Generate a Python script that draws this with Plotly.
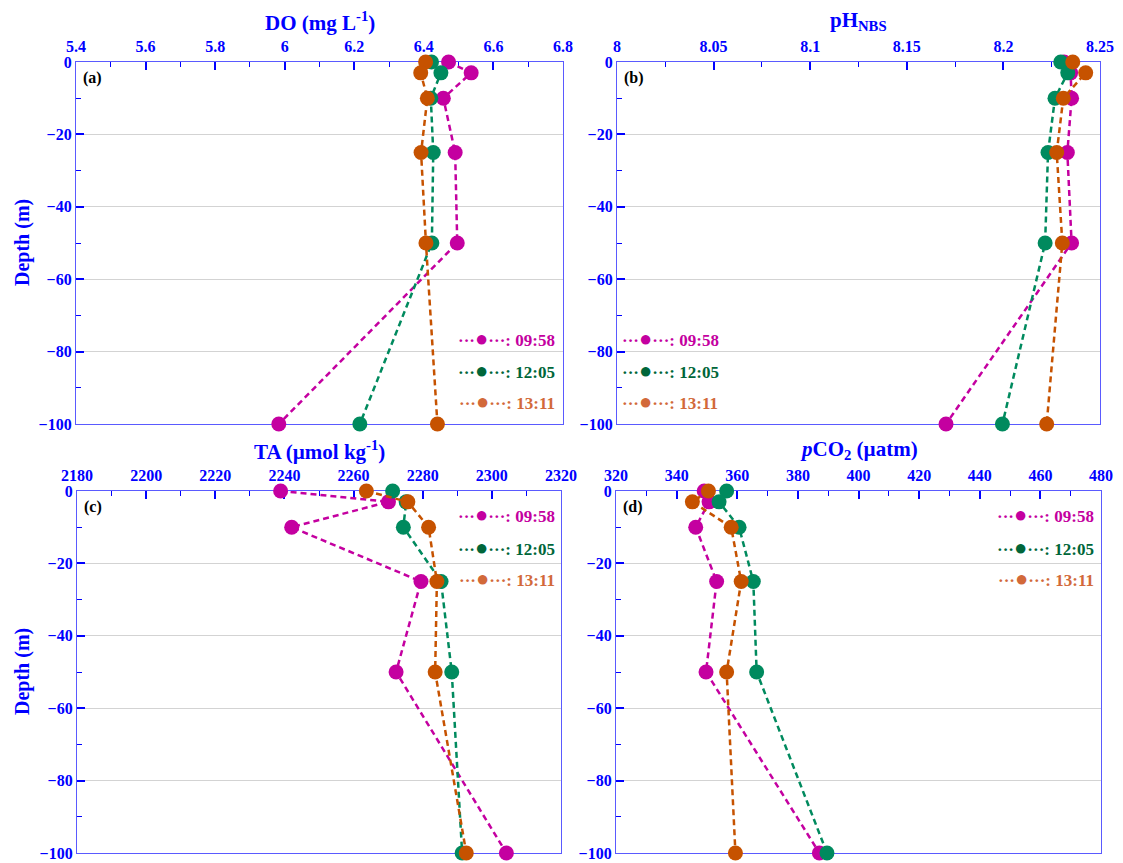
import plotly.graph_objects as go

depth = [0, -3, -10, -25, -50, -100]

do_0958 = [6.471, 6.536, 6.456, 6.490, 6.496, 5.983]
do_1205 = [6.422, 6.449, 6.420, 6.427, 6.423, 6.216]
do_1311 = [6.405, 6.391, 6.410, 6.392, 6.406, 6.439]

ph_0958 = [8.2314, 8.2348, 8.2353, 8.2331, 8.2353, 8.1703]
ph_1205 = [8.2297, 8.2333, 8.2267, 8.2231, 8.2216, 8.1995]
ph_1311 = [8.2359, 8.2426, 8.2310, 8.2276, 8.2305, 8.2224]

ta_0958 = [2238.9, 2270.1, 2242.1, 2279.5, 2272.3, 2304.2]
ta_1205 = [2271.3, 2275.2, 2274.4, 2285.3, 2288.4, 2291.4]
ta_1311 = [2263.7, 2275.7, 2281.7, 2284.1, 2283.6, 2292.6]

pco2_0958 = [349.1, 350.7, 346.3, 353.2, 349.7, 387.1]
pco2_1205 = [356.5, 354.0, 360.6, 365.3, 366.4, 389.6]
pco2_1311 = [350.5, 345.2, 358.0, 361.3, 356.5, 359.4]

times = ["09:58", "12:05", "13:11"]
marker_colors = ["#C400A0", "#008A5E", "#C65200"]
legend_colors = ["#C400A0", "#00663A", "#D2693A"]

PAGE_W, PAGE_H = 1123, 863
OFF = 8  # page body margin
W, H = PAGE_W - OFF, PAGE_H - OFF
BLUE = "#0000FF"
AXLINE = "#5A5AFF"
FONT = "Liberation Serif"


def px(xp):
    return (xp - OFF) / W


def py(yp):
    return 1 - (yp - OFF) / H


# panel pixel boxes on the page (left, right, top, bottom)
boxes = {
    "a": (76, 563, 62, 424),
    "b": (617, 1100, 62, 424),
    "c": (77, 561, 491, 853),
    "d": (616, 1101, 491, 853),
}

panels = [
    ("a", [do_0958, do_1205, do_1311], [5.4, 6.8], 0.2, "<b>DO (mg L<sup>-1</sup>)</b>"),
    ("b", [ph_0958, ph_1205, ph_1311], [8.0, 8.25], 0.05, "<b>pH<sub>NBS</sub></b>"),
    ("c", [ta_0958, ta_1205, ta_1311], [2180, 2320], 20, "<b>TA (µmol kg<sup>-1</sup>)</b>"),
    ("d", [pco2_0958, pco2_1205, pco2_1311], [320, 480], 20, "<b><i>p</i>CO<sub>2</sub> (µatm)</b>"),
]

fig = go.Figure()
annotations = []

for i, (key, series, xr, dt, title) in enumerate(panels):
    n = "" if i == 0 else str(i + 1)
    l, r, t, b = boxes[key]
    xd = [px(l), px(r)]
    yd = [py(b), py(t)]
    for s, vals in enumerate(series):
        fig.add_trace(go.Scatter(
            x=vals, y=depth, xaxis="x" + n, yaxis="y" + n,
            mode="lines+markers", cliponaxis=False, showlegend=False,
            line=dict(color=marker_colors[s], width=2.5, dash="6px,4px"),
            marker=dict(color=marker_colors[s], size=15),
            name=times[s],
        ))
    fig.layout["xaxis" + n] = dict(
        domain=xd, anchor="y" + n, side="top", range=xr, dtick=dt,
        automargin=False, ticklabelstandoff=2,
        ticks="inside", ticklen=8, tickwidth=1.5, tickcolor=BLUE,
        minor=dict(ticks="inside", ticklen=5, tickwidth=1.2, tickcolor=BLUE, dtick=dt / 2),
        showline=True, linecolor=AXLINE, linewidth=1.3, mirror=True,
        showgrid=False, zeroline=False, layer="below traces",
        tickfont=dict(family=FONT, size=16, color=BLUE, weight="bold"),
    )
    fig.layout["yaxis" + n] = dict(
        domain=yd, anchor="x" + n, range=[-100, 0], dtick=20,
        automargin=False,
        ticks="inside", ticklen=8, tickwidth=1.5, tickcolor=BLUE,
        minor=dict(ticks="inside", ticklen=5, tickwidth=1.2, tickcolor=BLUE, dtick=10),
        showline=True, linecolor=AXLINE, linewidth=1.3, mirror=True,
        showgrid=True, gridcolor="#D3D3D3", gridwidth=1, zeroline=False,
        layer="below traces",
        tickfont=dict(family=FONT, size=16, color=BLUE, weight="bold"),
    )
    # axis title
    annotations.append(dict(
        text=title, xref="paper", yref="paper", x=px((l + r) / 2), y=py(t - 41),
        xanchor="center", yanchor="middle", showarrow=False,
        font=dict(family=FONT, size=21, color=BLUE),
    ))
    # panel letter
    annotations.append(dict(
        text="<b>(%s)</b>" % key, xref="paper", yref="paper", x=px(l + 5), y=py(t + 16),
        xanchor="left", yanchor="middle", showarrow=False,
        font=dict(family=FONT, size=16, color="black"),
    ))
    # legend
    if key == "a":
        lx, lys, anc = 557, [338, 370, 401], "right"
    elif key == "b":
        lx, lys, anc = 620, [338, 370, 401], "left"
    elif key == "c":
        lx, lys, anc = 557, [515, 547, 578], "right"
    else:
        lx, lys, anc = 1096, [515, 547, 578], "right"
    for s in range(3):
        annotations.append(dict(
            text="<b>···<span style='font-size:22px'>●</span>···: %s</b>" % times[s],
            xref="paper", yref="paper", x=px(lx), y=py(lys[s]),
            xanchor=anc, yanchor="middle", showarrow=False,
            font=dict(family=FONT, size=17, color=legend_colors[s]),
        ))

for yc in [243, 672]:
    annotations.append(dict(
        text="<b>Depth (m)</b>", xref="paper", yref="paper", x=px(22), y=py(yc),
        xanchor="center", yanchor="middle", textangle=-90, showarrow=False,
        font=dict(family=FONT, size=20, color=BLUE),
    ))

fig.update_layout(
    width=W, height=H, margin=dict(l=0, r=0, t=0, b=0),
    paper_bgcolor="white", plot_bgcolor="white",
    annotations=annotations,
)

fig.write_html("out.html")
